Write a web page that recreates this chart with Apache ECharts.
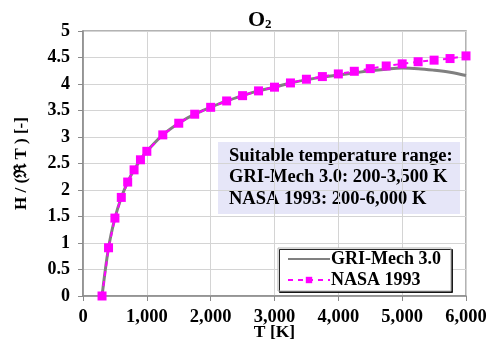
<!DOCTYPE html>
<html>
<head>
<meta charset="utf-8">
<script src="https://cdn.jsdelivr.net/npm/echarts@6/dist/echarts.min.js"></script>
<style>
  html, body { margin: 0; padding: 0; background: #fff; }
  #chart { width: 493px; height: 345px; }
</style>
</head>
<body>
<div id="chart"></div>
<script>
// Temperature grid [K]
const tempK = [298.15, 400, 500, 600, 700, 800, 900, 1000, 1250, 1500, 1750, 2000,
  2250, 2500, 2750, 3000, 3250, 3500, 3750, 4000, 4250, 4500, 4750, 5000,
  5250, 5500, 5750, 6000];

// Dimensionless sensible enthalpy of O2, NASA 1993 polynomials
const nasa1993 = [0, 0.91, 1.47, 1.86, 2.15, 2.38, 2.57, 2.73, 3.04, 3.26, 3.43, 3.56,
  3.68, 3.78, 3.87, 3.94, 4.02, 4.09, 4.14, 4.19, 4.24, 4.29, 4.34, 4.38,
  4.42, 4.45, 4.48, 4.53];

// Same quantity from the GRI-Mech 3.0 polynomials
const griMech30 = [0, 0.91, 1.47, 1.86, 2.15, 2.38, 2.57, 2.73, 3.04, 3.26, 3.43, 3.56,
  3.68, 3.78, 3.87, 3.94, 4.02, 4.08, 4.13, 4.17, 4.21, 4.25, 4.28, 4.30,
  4.29, 4.26, 4.22, 4.16];

const xTicks = [0, 1000, 2000, 3000, 4000, 5000, 6000];
const noteLines = ['Suitable temperature range:', 'GRI-Mech 3.0: 200-3,500 K', 'NASA 1993: 200-6,000 K'];

const serif = '"Liberation Serif", "Times New Roman", serif';
const pair = (xs, ys) => xs.map((x, i) => [x, ys[i]]);
const boldText = size => ({ fontFamily: serif, fontWeight: 'bold', fontSize: size, color: '#000' });

const chart = echarts.init(document.getElementById('chart'), null, { renderer: 'canvas' });

chart.setOption({
  animation: false,
  backgroundColor: '#fff',
  title: {
    text: '{o|O}{sub|2}',
    left: 243,
    top: 4,
    textStyle: {
      ...boldText(22),
      rich: {
        o: boldText(22),
        sub: { ...boldText(13), verticalAlign: 'bottom', padding: [9, 0, 0, 0] }
      }
    }
  },
  grid: {
    left: 83, right: 27, top: 31, bottom: 49,
    outerBoundsMode: 'none',
    show: true, borderColor: '#9a9a9a', borderWidth: 1.5
  },
  xAxis: {
    type: 'value', min: 0, max: 6000, interval: 1000,
    name: 'T [K]', nameLocation: 'middle', nameGap: 27, nameMoveOverlap: false,
    nameTextStyle: boldText(17.5),
    axisLine: { show: true, lineStyle: { color: '#8a8a8a', width: 1.5 } },
    axisTick: { show: true, length: 5, lineStyle: { color: '#8a8a8a' } },
    axisLabel: {
      margin: 12, ...boldText(18.5),
      customValues: xTicks,
      formatter: v => v.toLocaleString('en-US')
    },
    splitLine: { show: true, lineStyle: { color: '#d4d4d4', width: 1 } }
  },
  yAxis: {
    type: 'value', min: 0, max: 5, interval: 0.5,
    name: 'H / (ℜ T ) [-]', nameLocation: 'middle', nameGap: 53, nameRotate: 90, nameMoveOverlap: false,
    nameTextStyle: boldText(17),
    axisLine: { show: true, lineStyle: { color: '#8a8a8a', width: 1.5 } },
    axisTick: { show: true, length: 5, lineStyle: { color: '#8a8a8a' } },
    axisLabel: { margin: 13, ...boldText(18) },
    splitLine: { show: true, lineStyle: { color: '#d4d4d4', width: 1 } }
  },
  legend: {
    left: 278, top: 248,
    orient: 'vertical',
    itemWidth: 42, itemHeight: 8, itemGap: 3,
    padding: [2, 10, 2, 9],
    backgroundColor: '#fff',
    borderColor: '#b0b0b0', borderWidth: 1,
    shadowColor: 'rgba(0,0,0,0.85)', shadowOffsetX: 1.5, shadowOffsetY: 1.5, shadowBlur: 0,
    textStyle: { ...boldText(18), padding: [0, 0, 0, -4] },
    data: [
      { name: 'GRI-Mech 3.0', itemStyle: { color: 'rgba(0,0,0,0)', borderWidth: 0 } },
      { name: 'NASA 1993' }
    ]
  },
  graphic: [{
    type: 'group',
    left: 218, top: 142,
    children: [
      { type: 'rect', shape: { x: 0, y: 0, width: 242, height: 72 }, style: { fill: '#e6e6f8', stroke: null } },
      {
        type: 'text', x: 11, y: 3,
        style: {
          text: noteLines.join('\n'),
          fontFamily: serif, fontWeight: 'bold', fontSize: 18.5, fill: '#000', lineHeight: 21.5
        }
      }
    ]
  }],
  series: [
    {
      name: 'GRI-Mech 3.0', type: 'line', data: pair(tempK, griMech30),
      smooth: 0.35, showSymbol: false, symbol: 'none', z: 2,
      lineStyle: { color: '#808080', width: 3 },
      itemStyle: { color: '#808080' }
    },
    {
      name: 'NASA 1993', type: 'line', data: pair(tempK, nasa1993),
      symbol: 'rect', symbolSize: 9, z: 3,
      lineStyle: { color: '#ff00ff', width: 2, type: [5, 5] },
      itemStyle: { color: '#ff00ff' }
    }
  ]
});
</script>
</body>
</html>
